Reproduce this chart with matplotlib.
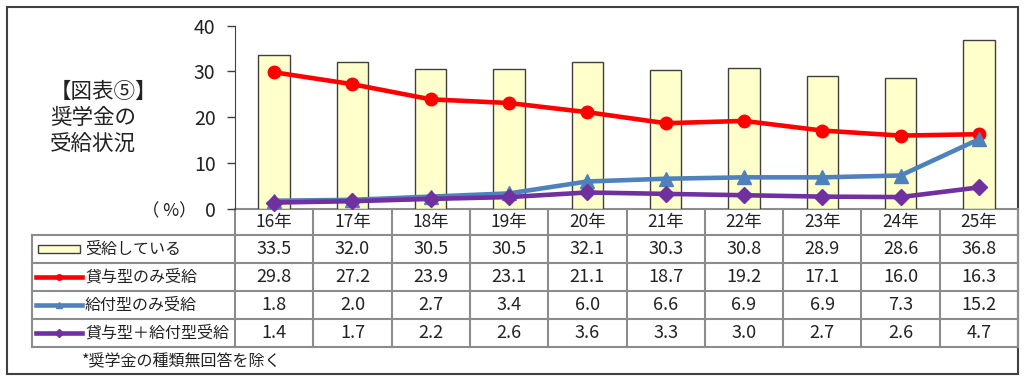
import numpy as np
import matplotlib
matplotlib.use('Agg')
import matplotlib.pyplot as plt
from matplotlib.patches import Rectangle

plt.rcParams['font.family'] = ['Liberation Sans Narrow', 'Noto Sans CJK JP', 'DejaVu Sans']

# data
years = ['16年', '17年', '18年', '19年', '20年', '21年', '22年', '23年', '24年', '25年']
jukyu = [33.5, 32.0, 30.5, 30.5, 32.1, 30.3, 30.8, 28.9, 28.6, 36.8]
taiyo_only = [29.8, 27.2, 23.9, 23.1, 21.1, 18.7, 19.2, 17.1, 16.0, 16.3]
kyufu_only = [1.8, 2.0, 2.7, 3.4, 6.0, 6.6, 6.9, 6.9, 7.3, 15.2]
both = [1.4, 1.7, 2.2, 2.6, 3.6, 3.3, 3.0, 2.7, 2.6, 4.7]
series_names = ['受給している', '貸与型のみ受給', '給付型のみ受給', '貸与型＋給付型受給']

bar_col = '#FFFFCC'
edge_col = '#404040'
grid_col = '#8C8C8C'
line_styles = [('#FF0000', 'o', 9), ('#4F81BD', '^', 10), ('#7030A0', 'D', 8)]

W, H = 1024, 379
fig = plt.figure(figsize=(W / 100, H / 100), dpi=100)

# overlay in pixel coordinates for frame and table
ov = fig.add_axes([0, 0, 1, 1])
ov.set_xlim(0, W)
ov.set_ylim(H, 0)
ov.axis('off')

ax_l, ax_r, ax_top, ax_bot = 235, 1018, 25.5, 209
ax = fig.add_axes([ax_l / W, 1 - ax_bot / H, (ax_r - ax_l) / W, (ax_bot - ax_top) / H])
ax.patch.set_alpha(0)

x = np.arange(len(years))
ax.bar(x, jukyu, width=0.4, color=bar_col, edgecolor=edge_col, linewidth=1.0, zorder=2)
for vals, (c, m, ms) in zip([taiyo_only, kyufu_only, both], line_styles):
    ax.plot(x, vals, color=c, lw=3.3, marker=m, markersize=ms, zorder=3, clip_on=False)

ax.set_xlim(-0.5, len(years) - 0.5)
ax.set_ylim(0, 40)
ax.set_yticks([0, 10, 20, 30, 40])
ax.set_xticks([])
for s in ['top', 'right', 'bottom']:
    ax.spines[s].set_visible(False)
ax.spines['left'].set_color(edge_col)
ax.tick_params(axis='y', direction='out', length=6, width=1, color=edge_col,
               labelsize=14, pad=8, labelcolor='#222222')

# outer frame
ov.add_patch(Rectangle((6.5, 7), 1011.5, 367, fill=False, edgecolor=edge_col, lw=1.5))

# title
ov.text(50, 118, '【図表⑤】\n奨学金の\n受給状況', fontsize=15.5, ha='left', va='center',
        linespacing=1.25, color='#222222')
ov.text(197, 211, '（ %）', fontsize=12.5, ha='right', va='center', color='#222222')

# table
rows_y = [209, 235, 263, 291, 319, 347]
col_w = (ax_r - ax_l) / len(years)
col_x = [ax_l + i * col_w for i in range(len(years) + 1)]
tab_left = 32

ov.plot([ax_l, ax_r], [rows_y[0], rows_y[0]], color=grid_col, lw=1.5)
for yy in rows_y[1:]:
    ov.plot([tab_left, ax_r], [yy, yy], color=grid_col, lw=1.5)
ov.plot([tab_left, tab_left], [rows_y[1], rows_y[-1]], color=grid_col, lw=1.5)
for xx in col_x:
    ov.plot([xx, xx], [rows_y[0], rows_y[-1]], color=grid_col, lw=1.5)

for i, yr in enumerate(years):
    cx = (col_x[i] + col_x[i + 1]) / 2
    ov.text(cx, (rows_y[0] + rows_y[1]) / 2, yr, fontsize=12.5, ha='center', va='center',
            color='#222222')
    for r, vals in enumerate([jukyu, taiyo_only, kyufu_only, both]):
        cy = (rows_y[r + 1] + rows_y[r + 2]) / 2
        ov.text(cx, cy, f'{vals[i]:.1f}', fontsize=13, ha='center', va='center',
                color='#222222')

# legend cells
for r, name in enumerate(series_names):
    cy = (rows_y[r + 1] + rows_y[r + 2]) / 2
    if r == 0:
        ov.add_patch(Rectangle((38, cy - 4), 42, 8, facecolor=bar_col, edgecolor=edge_col, lw=1))
    else:
        c, m, ms = line_styles[r - 1]
        ov.plot([36, 82], [cy, cy], color=c, lw=3.3)
        ov.plot([59], [cy], color=c, marker=m, markersize=4)
    ov.text(85, cy, name, fontsize=11.5, ha='left', va='center', color='#222222')

ov.text(82, 362, '*奨学金の種類無回答を除く', fontsize=11.5, ha='left', va='center',
        color='#222222')

fig.savefig('out.png', dpi=100)
